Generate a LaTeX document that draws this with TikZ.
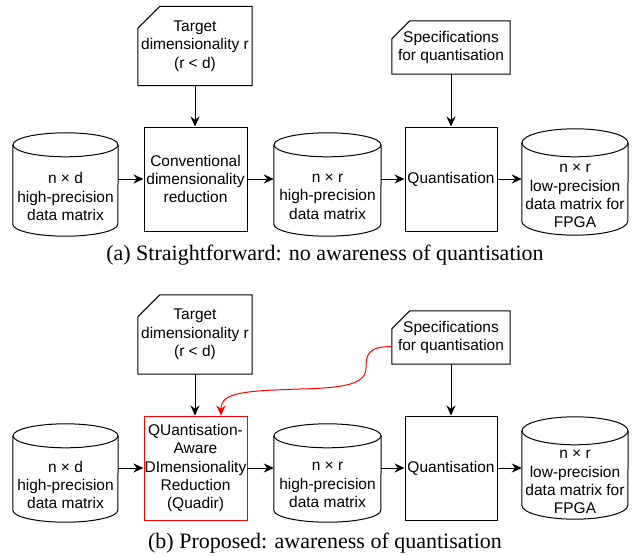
\documentclass[tikz,border=0pt]{standalone}
\usepackage{fontspec}
\setmainfont{Liberation Serif}
\newfontfamily\diafont{Liberation Sans}
\usetikzlibrary{arrows.meta,calc}
\tikzset{
  lw/.style={line width=1pt},
  dtext/.style={font=\diafont\fontsize{15.5}{18.4}\selectfont, align=center, inner sep=0pt},
  blockbox/.style={dtext, lw, draw, minimum width=#1},
  cardnode/.style={dtext},
  cylbody/.style={dtext},
  arr/.style={lw, -{Stealth[length=10pt,width=9pt]}},
  captext/.style={font=\fontsize{22}{26}\selectfont, inner sep=0pt, anchor=base},
}
\newcommand\drawcard[2]{%
  \draw[lw] ([xshift=#2pt]#1.north west) -- (#1.north east) -- (#1.south east) -- (#1.south west) -- ([yshift=-#2pt]#1.north west) -- cycle;}
\newcommand\drawcyl[3]{% name, ry, rx
  \draw[lw] ([yshift=#2pt]#1.north west) -- ([yshift=#2pt]#1.south west)
     arc[start angle=180,end angle=360,x radius=#3pt,y radius=#2pt]
     -- ([yshift=#2pt]#1.north east);
  \draw[lw] ([yshift=#2pt]#1.north) ellipse[x radius=#3pt,y radius=#2pt];}
\begin{document}
\begin{tikzpicture}[x=1pt,y=-1pt]
\useasboundingbox (0,0) rectangle (638,555);
% ---------------- (a) ----------------
\node[cardnode, minimum width=114pt, minimum height=79pt] (ta) at (195,46) {Target\\dimensionality r\\(r {<} d)};
\drawcard{ta}{22}
\node[cardnode, minimum width=118pt, minimum height=53pt] (sa) at (451,47.5) {Specifications\\for quantisation};
\drawcard{sa}{18}
\node[cylbody, minimum width=105pt, minimum height=79pt] (c1a) at (65.5,196.5) {n × d\\high-precision\\data matrix};
\drawcyl{c1a}{12}{52.5}
\node[blockbox=103pt, minimum height=104pt] (cva) at (195.5,179) {Conventional\\dimensionality\\reduction};
\node[cylbody, minimum width=107pt, minimum height=79pt] (c2a) at (327.5,196.5) {n × r\\high-precision\\data matrix};
\drawcyl{c2a}{12}{53.5}
\node[blockbox=92pt, minimum height=104pt] (qa) at (451,179) {Quantisation};
\node[cylbody, minimum width=106pt, minimum height=78pt] (c3a) at (575,196) {n × r\\low-precision\\data matrix for\\FPGA};
\drawcyl{c3a}{14}{53}
\draw[arr] (ta.south) -- (ta.south |- cva.north);
\draw[arr] (sa.south) -- (sa.south |- qa.north);
\draw[arr] (c1a.east |- cva.west) -- (cva.west);
\draw[arr] (cva.east) -- (cva.east -| c2a.west);
\draw[arr] (c2a.east |- qa.west) -- (qa.west);
\draw[arr] (qa.east) -- (qa.east -| c3a.west);
\node[captext] (capa) at (325,260) {(a) Straightforward: no awareness of quantisation};
% ---------------- (b) ----------------
\node[cardnode, minimum width=114pt, minimum height=79pt] (tb) at (195,334.5) {Target\\dimensionality r\\(r {<} d)};
\drawcard{tb}{22}
\node[cardnode, minimum width=118pt, minimum height=53pt] (sb) at (451,337.5) {Specifications\\for quantisation};
\drawcard{sb}{18}
\node[cylbody, minimum width=105pt, minimum height=74pt] (c1b) at (65.5,485) {n × d\\high-precision\\data matrix};
\drawcyl{c1b}{12}{52.5}
\node[blockbox=103pt, minimum height=104pt, draw=red] (qdb) at (195.5,468) {QUantisation-\\Aware\\DImensionality\\Reduction\\(Quadir)};
\node[cylbody, minimum width=107pt, minimum height=74pt] (c2b) at (327.5,485) {n × r\\high-precision\\data matrix};
\drawcyl{c2b}{12}{53.5}
\node[blockbox=92pt, minimum height=104pt] (qb) at (451,468) {Quantisation};
\node[cylbody, minimum width=106pt, minimum height=74pt] (c3b) at (575,482) {n × r\\low-precision\\data matrix for\\FPGA};
\drawcyl{c3b}{14}{53}
\draw[arr] (tb.south) -- (tb.south |- qdb.north);
\draw[arr] (sb.south) -- (sb.south |- qb.north);
\draw[arr] (c1b.east |- qdb.west) -- (qdb.west);
\draw[arr] (qdb.east) -- (qdb.east -| c2b.west);
\draw[arr] (c2b.east |- qb.west) -- (qb.west);
\draw[arr] (qb.east) -- (qb.east -| c3b.west);
\draw[arr, red] ([yshift=-9pt]sb.west) .. controls +(-24,0) and (366,355) .. (366,368)
   .. controls (366,384) and (345,388) .. (300,389)
   .. controls (245,391) and ([xshift=25.5pt]qdb.north |- 0,392) .. ([xshift=25.5pt]qdb.north);
\node[captext] (capb) at (325,548.5) {(b) Proposed: awareness of quantisation};
\end{tikzpicture}
\end{document}
